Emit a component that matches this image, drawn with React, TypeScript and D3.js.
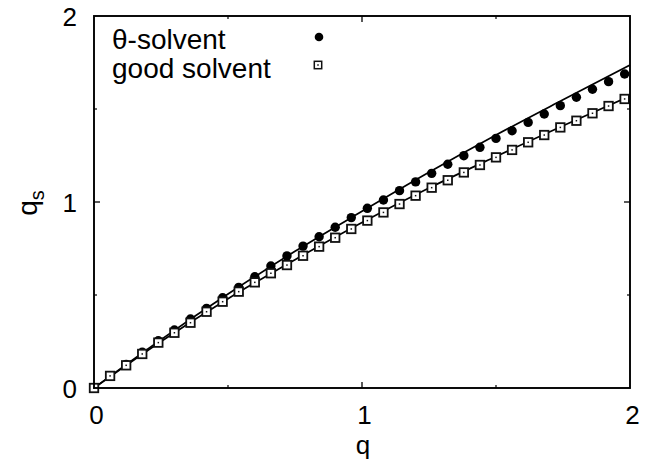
import React from "react";
import * as d3 from "d3";

const W = 656;
const H = 463;

// measured q values (step 0.06)
const qValues = [
  0, 0.06, 0.12, 0.18, 0.24, 0.3, 0.36, 0.42, 0.48, 0.54, 0.6, 0.66, 0.72, 0.78, 0.84, 0.9, 0.96,
  1.02, 1.08, 1.14, 1.2, 1.26, 1.32, 1.38, 1.44, 1.5, 1.56, 1.62, 1.68, 1.74, 1.8, 1.86, 1.92, 1.98,
];
const thetaSolvent = [
  0, 0.065, 0.127, 0.192, 0.254, 0.312, 0.371, 0.428, 0.485, 0.541, 0.598, 0.656, 0.71, 0.763, 0.813,
  0.864, 0.916, 0.966, 1.011, 1.061, 1.108, 1.154, 1.203, 1.249, 1.294, 1.342, 1.383, 1.428, 1.473,
  1.518, 1.563, 1.606, 1.647, 1.688,
];
const goodSolvent = [
  0, 0.065, 0.122, 0.183, 0.244, 0.297, 0.351, 0.41, 0.464, 0.518, 0.568, 0.617, 0.661, 0.711, 0.76,
  0.808, 0.855, 0.9, 0.944, 0.989, 1.034, 1.077, 1.117, 1.159, 1.199, 1.24, 1.28, 1.321, 1.36, 1.401,
  1.437, 1.477, 1.516, 1.554,
];
// theory curves
const curveQ = [0, 0.25, 0.5, 0.75, 1.0, 1.25, 1.5, 1.75, 2.0];
const thetaCurve = [0, 0.26, 0.505, 0.735, 0.95, 1.16, 1.36, 1.55, 1.737];
const goodCurve = [0, 0.25, 0.48, 0.69, 0.89, 1.075, 1.245, 1.41, 1.57];

const xMajor = [0, 1, 2];
const yMajor = [0, 1, 2];
const minorTicks = [0.5, 1.5];
const legendLabels = ["θ-solvent", "good solvent"];

const left = 94;
const right = 630;
const top = 16;
const bottom = 388;

export default function App() {
  const x = d3.scaleLinear().domain([0, 2]).range([left, right]);
  const y = d3.scaleLinear().domain([0, 2]).range([bottom, top]);
  const line = d3
    .line<[number, number]>()
    .x((d) => x(d[0]))
    .y((d) => y(d[1]))
    .curve(d3.curveMonotoneX);
  const thetaPath = line(curveQ.map((q, i) => [q, thetaCurve[i]]) as [number, number][]) || "";
  const goodPath = line(curveQ.map((q, i) => [q, goodCurve[i]]) as [number, number][]) || "";
  const font = "'Liberation Sans', Arial, Helvetica, sans-serif";
  const sq = 8.5;

  return (
    <svg
      width={W}
      height={H}
      style={{ position: "absolute", left: 0, top: 0, background: "#fff" }}
      fontFamily={font}
    >
      <rect x={0} y={0} width={W} height={H} fill="#fff" />
      <defs>
        <clipPath id="clip">
          <rect x={left} y={top} width={right - left} height={bottom - top} />
        </clipPath>
      </defs>
      {/* ticks */}
      {xMajor.slice(1, -1).map((t) => (
        <g key={"xt" + t} stroke="#000" strokeWidth={1.3}>
          <line x1={x(t)} x2={x(t)} y1={bottom} y2={bottom - 6} />
          <line x1={x(t)} x2={x(t)} y1={top} y2={top + 6} />
        </g>
      ))}
      {yMajor.slice(1, -1).map((t) => (
        <g key={"yt" + t} stroke="#000" strokeWidth={1.3}>
          <line x1={left} x2={left + 6} y1={y(t)} y2={y(t)} />
          <line x1={right} x2={right - 6} y1={y(t)} y2={y(t)} />
        </g>
      ))}
      {minorTicks.map((t) => (
        <g key={"mt" + t} stroke="#000" strokeWidth={1.2}>
          <line x1={x(t)} x2={x(t)} y1={bottom} y2={bottom - 3} />
          <line x1={x(t)} x2={x(t)} y1={top} y2={top + 3} />
          <line x1={left} x2={left + 3} y1={y(t)} y2={y(t)} />
          <line x1={right} x2={right - 3} y1={y(t)} y2={y(t)} />
        </g>
      ))}
      {/* curves */}
      <g clipPath="url(#clip)" fill="none" stroke="#000" strokeWidth={1.7}>
        <path d={thetaPath} />
        <path d={goodPath} />
      </g>
      {/* data points */}
      <g fill="#000">
        {qValues.map((q, i) => (
          <circle key={"c" + i} cx={x(q)} cy={y(thetaSolvent[i])} r={4.7} />
        ))}
      </g>
      <g>
        {qValues.map((q, i) => (
          <g key={"s" + i}>
            <rect
              x={x(q) - sq / 2}
              y={y(goodSolvent[i]) - sq / 2}
              width={sq}
              height={sq}
              fill="#fff"
              stroke="#111"
              strokeWidth={1.8}
            />
            <rect x={x(q) - 0.75} y={y(goodSolvent[i]) - 0.75} width={1.5} height={1.5} fill="#111" />
          </g>
        ))}
      </g>
      {/* frame */}
      <rect
        x={left}
        y={top}
        width={right - left}
        height={bottom - top}
        fill="none"
        stroke="#000"
        strokeWidth={1.9}
      />
      {/* tick labels */}
      {yMajor.map((t) => (
        <text key={"yl" + t} x={77} y={y(t) + 9.5} fontSize={26} textAnchor="end" fill="#000">
          {t}
        </text>
      ))}
      {xMajor.map((t) => (
        <text key={"xl" + t} x={x(t) + 2.5} y={424} fontSize={26} textAnchor="middle" fill="#000">
          {t}
        </text>
      ))}
      {/* axis titles */}
      <text x={363} y={454} fontSize={26} textAnchor="middle" fill="#000">
        q
      </text>
      <text transform="translate(37,203) rotate(-90)" fontSize={28} textAnchor="middle" fill="#000">
        q<tspan fontSize={20} dy={7}>s</tspan>
      </text>
      {/* legend */}
      <text x={112} y={49} fontSize={28} fill="#000">
        {legendLabels[0]}
      </text>
      <text x={112} y={78} fontSize={28} fill="#000">
        {legendLabels[1]}
      </text>
      <circle cx={319} cy={37} r={4.3} fill="#000" />
      <rect x={318 - 3.7} y={65 - 3.7} width={7.4} height={7.4} fill="#fff" stroke="#111" strokeWidth={1.5} />
      <rect x={318 - 0.75} y={65 - 0.75} width={1.5} height={1.5} fill="#111" />
    </svg>
  );
}
